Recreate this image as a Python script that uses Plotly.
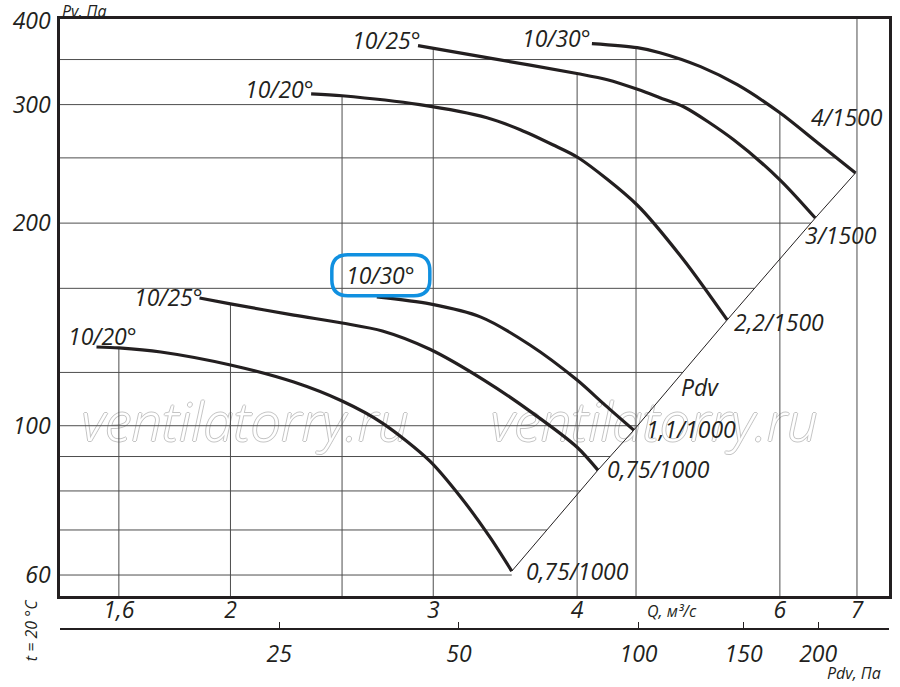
import numpy as np
import plotly.graph_objects as go

# ---------------- data ----------------
# Q, m3/s  and  Pv, Pa  for each fan curve
q_a = [1.53, 1.60, 1.74, 2.00, 2.27, 2.50, 2.71, 2.98, 3.17, 3.36, 3.51]
p_a = [130.9, 130.5, 128.7, 123.1, 116.1, 108.8, 100.9, 88.6, 78.3, 68.3, 60.8]
q_b = [1.88, 2.00, 2.27, 2.50, 2.71, 2.98, 3.32, 3.66, 4.00, 4.17]
p_b = [154.8, 151.7, 146.0, 142.1, 138.3, 129.9, 116.9, 104.4, 92.9, 85.9]
q_c = [2.68, 2.98, 3.30, 3.64, 4.00, 4.23, 4.48]
p_c = [155.4, 151.7, 145.0, 131.8, 116.9, 107.3, 98.5]
q_d = [2.35, 2.50, 2.92, 3.34, 3.57, 3.81, 4.01, 4.51, 4.95, 5.40]
p_d = [311.3, 309.2, 299.9, 286.8, 275.3, 261.5, 250.1, 212.8, 176.3, 143.6]
q_e = [2.91, 3.34, 4.01, 4.25, 4.52, 4.72, 4.95, 5.47, 6.00, 6.44]
p_e = [367.1, 352.3, 333.4, 326.6, 315.8, 307.2, 297.8, 266.0, 231.9, 203.5]
q_f = [4.12, 4.51, 4.72, 5.12, 5.51, 6.00, 6.47, 6.98]
p_f = [369.6, 364.5, 358.3, 341.6, 321.1, 291.7, 263.3, 237.5]

start_labels = ["10/20°", "10/25°", "10/30°", "10/20°", "10/25°", "10/30°"]
end_labels = ["0,75/1000", "0,75/1000", "1,1/1000", "2,2/1500", "3/1500", "4/1500"]

q_ticks = [1.6, 2, 3, 4, 6, 7]
q_ticktext = ["1,6", "2", "3", "4", "6", "7"]
q_grid = [1.6, 2, 2.5, 3, 4, 4.5, 6, 7]
p_ticks = [60, 100, 200, 300, 400]
p_ticktext = ["60", "100", "200", "300", "400"]
p_grid = [60, 70, 80, 90, 100, 120, 160, 200, 250, 300, 350]
pdv_ticks = [25, 50, 100, 150, 200]
pdv_ticktext = ["25", "50", "100", "150", "200"]

# ---------------- styling / layout ----------------
FONT = "Open Sans"
INK = "#231f20"
GRID = "#4d4d4d"
x_range = [0.1530, 0.8729]
y_range = [1.747, 2.6043]
pdv_range = [1.0305, 2.4198]
y_dom0 = 0.0541

curves = [(q_a, p_a), (q_b, p_b), (q_c, p_c), (q_d, p_d), (q_e, p_e), (q_f, p_f)]

fig = go.Figure()

qmin = 10 ** x_range[0]
pmin, pmax = 10 ** y_range[0], 10 ** y_range[1]

# right boundary of the horizontal grid: top-right curve, then the Pdv line
bq = list(q_f) + [c[0][-1] for c in curves[:-1]][::-1]
bp = list(p_f) + [c[1][-1] for c in curves[:-1]][::-1]
lbq, lbp = np.log10(bq), np.log10(bp)
hx, hy = [], []
for p in p_grid:
    qr = 10 ** np.interp(np.log10(p), lbp[::-1], lbq[::-1])
    hx += [qmin, qr, None]
    hy += [p, p, None]
vx, vy = [], []
for q in q_grid:
    tops = [10 ** np.interp(np.log10(q), np.log10(cq), np.log10(cp))
            for cq, cp in curves if cq[0] <= q <= cq[-1]]
    top = max(tops) if tops else pmax
    vx += [q, q, None]
    vy += [pmin, top, None]

fig.add_trace(go.Scatter(x=hx, y=hy, mode="lines", line=dict(color=GRID, width=1),
                         hoverinfo="skip", showlegend=False))
fig.add_trace(go.Scatter(x=vx, y=vy, mode="lines", line=dict(color=GRID, width=1),
                         hoverinfo="skip", showlegend=False))

# Pdv line through the curve end points
ends = sorted([(c[0][-1], c[1][-1]) for c in curves])
fig.add_trace(go.Scatter(x=[e[0] for e in ends], y=[e[1] for e in ends], mode="lines",
                         line=dict(color=INK, width=1), hoverinfo="skip", showlegend=False))

for cq, cp in curves:
    fig.add_trace(go.Scatter(x=cq, y=cp, mode="lines",
                             line=dict(color=INK, width=3.2, shape="spline", smoothing=0.8),
                             showlegend=False))

# dummy trace so the Pdv axis is drawn
fig.add_trace(go.Scatter(x=pdv_ticks, y=[None] * len(pdv_ticks), xaxis="x2", yaxis="y",
                         mode="markers", showlegend=False, hoverinfo="skip"))

lab_font = dict(family=FONT, size=23, color=INK, style="italic")
small_font = dict(family=FONT, size=16, color=INK, style="italic")

start_pos = [("center", 6, 11), ("right", 5, 1), ("center", 4, 22),
             ("right", 5, 5), ("right", 5, 6), ("right", 1, 6)]
end_pos = [(12, 0), (7, 1), (10, 1), (5, -2), (-12, -17), (-47, 56)]

annotations = []
for (cq, cp), txt, (xa, xs, ys) in zip(curves, start_labels, start_pos):
    annotations.append(dict(x=np.log10(cq[0]), y=np.log10(cp[0]), xref="x", yref="y",
                            text=txt, showarrow=False, xanchor=xa, yanchor="middle",
                            xshift=xs, yshift=ys, font=lab_font))
for (cq, cp), txt, (xs, ys) in zip(curves, end_labels, end_pos):
    annotations.append(dict(x=np.log10(cq[-1]), y=np.log10(cp[-1]), xref="x", yref="y",
                            text=txt, showarrow=False, xanchor="left", yanchor="middle",
                            xshift=xs, yshift=ys, font=lab_font))

annotations += [
    dict(x=0.6907, y=2.0573, xref="x", yref="y", text="Pdv", showarrow=False,
         xanchor="left", yanchor="middle", font=lab_font),
    dict(x=0.7385, y=0.029, xref="paper", yref="paper", text="Q, м³/с", showarrow=False,
         xanchor="center", yanchor="middle", font=small_font),
    dict(x=0.0, y=1.0349, xref="paper", yref="paper", text="Pv, Па", showarrow=False,
         xanchor="left", yanchor="top", font=small_font),
    dict(x=0.9931, y=-0.094, xref="paper", yref="paper", text="Pdv, Па", showarrow=False,
         xanchor="right", yanchor="bottom", font=small_font),
    dict(x=-0.035, y=-0.002, xref="paper", yref="paper", text="t = 20 °C", showarrow=False,
         textangle=-90, xanchor="center", yanchor="middle", font=small_font),
]

# highlight box round the lower 10/30° label (pixel offsets from the curve start)
px_c = (np.log10(q_c[0]) - x_range[0]) / (x_range[1] - x_range[0])
py_c = y_dom0 + (np.log10(p_c[0]) - y_range[0]) / (y_range[1] - y_range[0]) * (1 - y_dom0)
x0, x1, y0, y1, r = -45, 53, 1, 42, 16
path = (f"M{x0 + r},{y0} L{x1 - r},{y0} Q{x1},{y0} {x1},{y0 + r} L{x1},{y1 - r} "
        f"Q{x1},{y1} {x1 - r},{y1} L{x0 + r},{y1} Q{x0},{y1} {x0},{y1 - r} "
        f"L{x0},{y0 + r} Q{x0},{y0} {x0 + r},{y0} Z")
shapes = [dict(type="path", xref="paper", yref="paper", xsizemode="pixel", ysizemode="pixel",
               xanchor=px_c, yanchor=py_c, path=path, line=dict(color="#1090e0", width=3.5))]

# watermark
wm_shadow = ("1px 0 0 #c4c4c4, -1px 0 0 #c4c4c4, 0 1px 0 #c4c4c4, 0 -1px 0 #c4c4c4")
for cx in (0.2232, 0.7168):
    base = dict(type="rect", xref="paper", yref="paper", x0=cx - 0.01, x1=cx + 0.01,
                y0=0.33, y1=0.342, layer="below", line=dict(color="rgba(0,0,0,0)", width=0))
    try:
        s = go.layout.Shape(**base, label=dict(text="ventilatorry.ru", textposition="middle center",
                                               font=dict(family=FONT, size=54, color="white",
                                                         style="italic", weight=300,
                                                         shadow=wm_shadow)))
    except Exception:
        s = go.layout.Shape(**base, label=dict(text="ventilatorry.ru", textposition="middle center",
                                               font=dict(family=FONT, size=54, color="#dcdcdc")))
    shapes.append(s)

tick_font = dict(family=FONT, size=23, color=INK, style="italic")
fig.update_layout(
    width=900, height=687,
    margin=dict(l=60, r=11, t=19, b=58),
    paper_bgcolor="white", plot_bgcolor="rgba(0,0,0,0)",
    showlegend=False,
    xaxis=dict(type="log", range=x_range, tickvals=q_ticks, ticktext=q_ticktext,
               showgrid=False, zeroline=False, showline=True, mirror=True,
               linecolor=INK, linewidth=2.5, ticks="", tickfont=tick_font,
               anchor="y", ticklabelstandoff=-8, automargin=False),
    yaxis=dict(type="log", range=y_range, domain=[y_dom0, 1], tickvals=p_ticks,
               ticktext=p_ticktext, showgrid=False, zeroline=False, showline=True,
               mirror=True, linecolor=INK, linewidth=2.5, ticks="", tickfont=tick_font,
               ticklabelstandoff=2, automargin=False),
    xaxis2=dict(type="log", range=pdv_range, overlaying="x", anchor="free", position=0,
                side="bottom", tickvals=pdv_ticks, ticktext=pdv_ticktext, ticks="inside",
                ticklen=6, tickwidth=1, tickcolor=INK, showline=True, linecolor=INK,
                linewidth=2, showgrid=False, zeroline=False, tickfont=tick_font,
                ticklabelstandoff=4, automargin=False),
    annotations=annotations,
    shapes=shapes,
)

fig.write_html("out.html", config={"displayModeBar": False},
               post_script="document.body.style.margin='0';document.body.style.padding='0';")
